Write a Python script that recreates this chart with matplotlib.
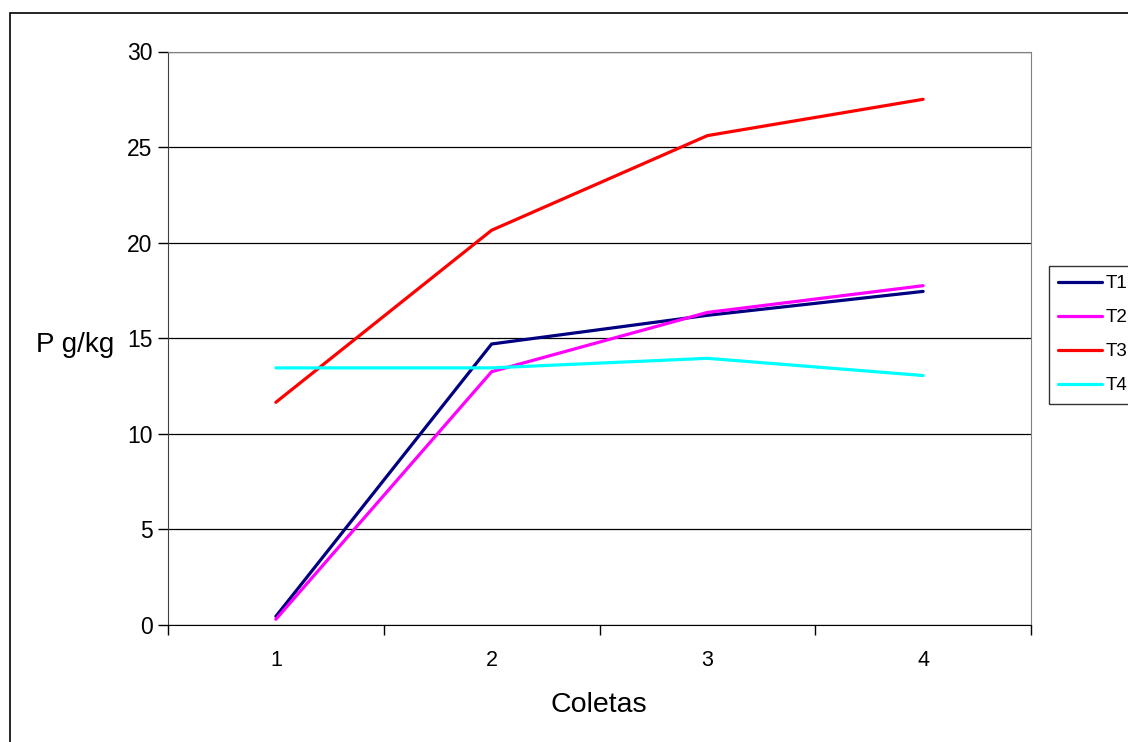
import matplotlib.pyplot as plt
from matplotlib.patches import Rectangle

plt.rcParams['font.family'] = ['Liberation Sans', 'DejaVu Sans']

# P content per treatment over the four collections
coletas = [1, 2, 3, 4]
t1 = [0.45, 14.7, 16.2, 17.45]
t2 = [0.3, 13.25, 16.35, 17.75]
t3 = [11.65, 20.65, 25.6, 27.5]
t4 = [13.45, 13.45, 13.95, 13.05]

series = [("T1", t1, "#000080"), ("T2", t2, "#ff00ff"),
          ("T3", t3, "#ff0000"), ("T4", t4, "#00ffff")]

fig = plt.figure(figsize=(11.28, 7.42), dpi=100)
ax = fig.add_axes([168/1128, 1 - 625/742, (1031-168)/1128, (625-51.5)/742])

for name, vals, col in series:
    ax.plot(coletas, vals, color=col, lw=2.3, label=name, solid_capstyle='round')

ax.set_xlim(0.5, 4.5)
ax.set_ylim(0, 30)
ax.set_yticks(range(0, 31, 5))
ax.yaxis.grid(True, color='#000000', lw=0.9)
ax.set_axisbelow(True)

# category boundaries carry the tick marks, labels sit in the middle
ax.set_xticks([0.5, 1.5, 2.5, 3.5, 4.5])
ax.set_xticklabels([])
ax.set_xticks(coletas, minor=True)
ax.set_xticklabels([str(c) for c in coletas], minor=True)
ax.tick_params(axis='x', which='minor', length=0, labelsize=15.5, pad=18)
ax.tick_params(axis='x', which='major', length=7, width=1, direction='out')
ax.tick_params(axis='y', length=7, width=1, direction='out', labelsize=16.5, pad=4)

for s in ['top', 'right']:
    ax.spines[s].set_color('#808080')
ax.spines['left'].set_color('#404040')
ax.spines['bottom'].set_color('#000000')

fig.text(75/1128, 1 - 345/742, 'P g/kg', fontsize=20, ha='center', va='center')
fig.text(599/1128, 1 - 705/742, 'Coletas', fontsize=20.5, ha='center', va='center')

leg = fig.legend(loc='upper left', bbox_to_anchor=(1049/1128, 1 - 266/742),
                 fontsize=13.5, frameon=True, fancybox=False, handlelength=2.3,
                 handletextpad=0.2, labelspacing=0.9, borderpad=0.5,
                 borderaxespad=0)
leg.get_frame().set_edgecolor('black')
leg.get_frame().set_linewidth(1)
for h in leg.get_lines():
    h.set_linewidth(2.3)

# outer chart frame
fig.patches.append(Rectangle((9.5/1128, -0.1), 1.2, 0.1 + 1 - 12.5/742,
                             transform=fig.transFigure, fill=False,
                             edgecolor='black', lw=1.2))

fig.savefig('out.png', dpi=100)
